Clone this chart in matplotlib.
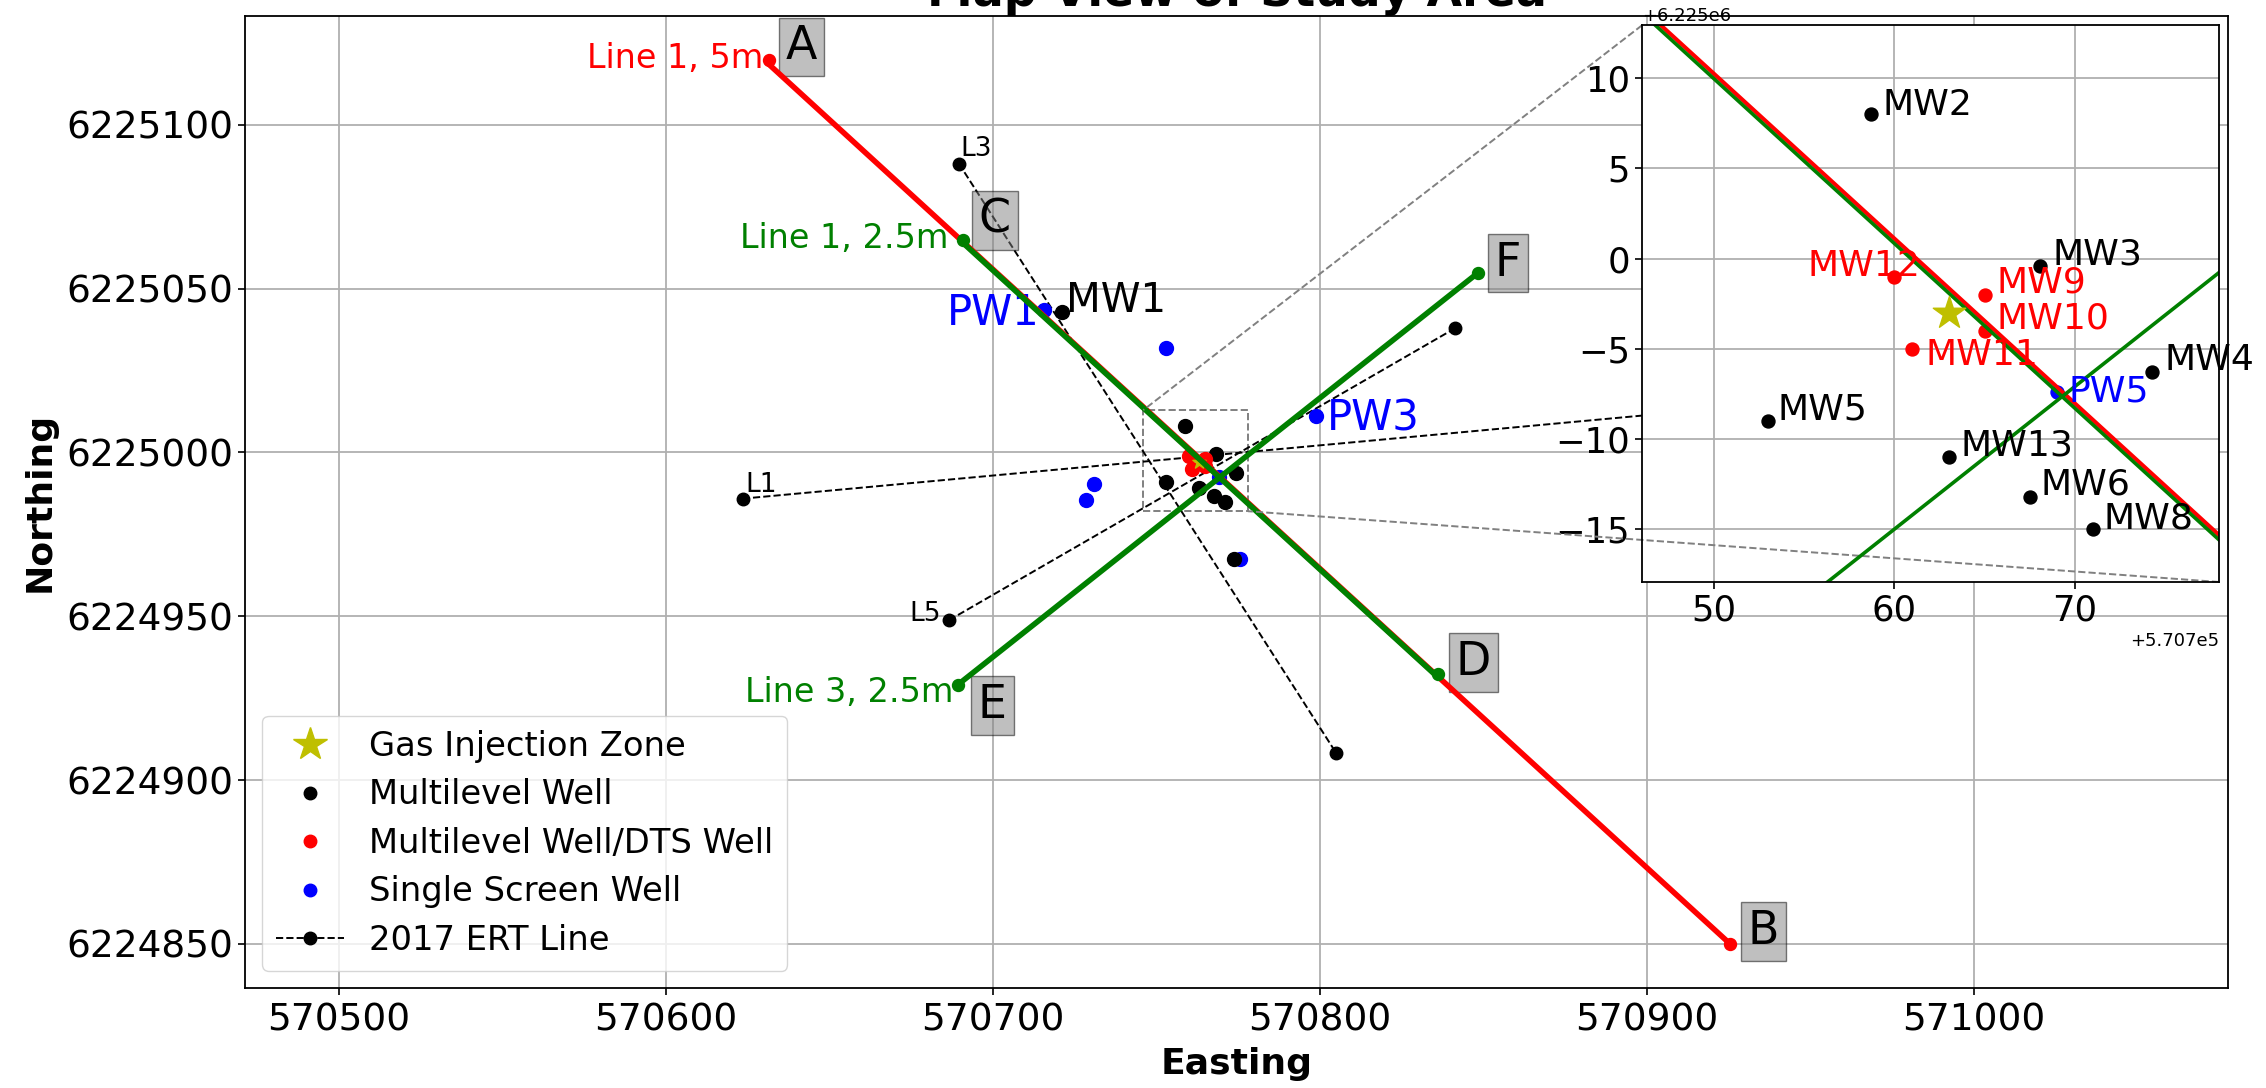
import numpy as np
import matplotlib
matplotlib.use('Agg')
import matplotlib.pyplot as plt
from matplotlib.lines import Line2D
from mpl_toolkits.axes_grid1.inset_locator import mark_inset

# Pozos (Easting, Northing)
star_x = [570763.0]
star_y = [6224997.0]

multi_names = ['MW2', 'MW3', 'MW4', 'MW5', 'MW13', 'MW6', 'MW8']
multi_x = [570758.7, 570768.1, 570774.3, 570753.0, 570763.0, 570767.5, 570771.0]
multi_y = [6225008.0, 6224999.6, 6224993.7, 6224991.0, 6224989.0, 6224986.8, 6224985.0]
multi_lab_x = [570759.35, 570768.75, 570774.95, 570753.5, 570763.65, 570768.1, 570771.6]
multi_lab_y = [6225007.97, 6224999.67, 6224993.8, 6224991.1, 6224989.1, 6224986.9, 6224985.05]

# estos dos solo salen en la vista general
other_multi_x = [570721.0, 570773.7]
other_multi_y = [6225042.8, 6224967.6]

dts_names = ['MW9', 'MW10', 'MW11', 'MW12']
dts_x = [570765.0, 570765.0, 570761.0, 570760.0]
dts_y = [6224998.0, 6224996.0, 6224995.0, 6224999.0]
dts_lab_x = [570765.65, 570765.65, 570761.7, 570755.2]
dts_lab_y = [6224998.1, 6224996.13, 6224994.1, 6224999.05]

single_x = [570715.5, 570753.0, 570798.8, 570730.9, 570728.4, 570775.7, 570769.0]
single_y = [6225043.5, 6225031.8, 6225011.0, 6224990.4, 6224985.5, 6224967.6, 6224992.6]

# Lineas de perfil
line1_5m_x = [570631.5, 570925.4]
line1_5m_y = [6225118.5, 6224850.0]
line1_25m_x = [570691.0, 570836.0]
line1_25m_y = [6225063.84, 6224931.44]
line3_25m_x = [570689.3, 570848.3]
line3_25m_y = [6224929.1, 6225054.8]

# Puntos de los extremos de cada linea
red_end_x = [570631.5, 570925.4]
red_end_y = [6225119.8, 6224850.0]
green_end_x = [570691.0, 570836.0, 570689.3, 570848.3]
green_end_y = [6225065.0, 6224932.5, 6224929.1, 6225054.8]

# Lineas ERT 2017
ert_names = ['L1', 'L3', 'L5']
ert_x = [[570623.5, 570950.0], [570689.6, 570805.0], [570686.6, 570841.3]]
ert_y = [[6224985.9, 6225016.0], [6225088.2, 6224908.2], [6224948.8, 6225037.9]]
ert_lab_x = [570624.3, 570690.0, 570674.6]
ert_lab_y = [6224988.0, 6225090.4, 6224948.4]

# Letras de los extremos
end_names = ['A', 'B', 'C', 'D', 'E', 'F']
end_x = [570636.7, 570930.9, 570695.7, 570841.6, 570695.4, 570853.5]
end_y = [6225120.0, 6224850.0, 6225067.0, 6224932.0, 6224919.0, 6225054.0]

x_ticks = [570500, 570600, 570700, 570800, 570900, 571000]
y_ticks = [6224850, 6224900, 6224950, 6225000, 6225050, 6225100]
inset_x_ticks = [570750, 570760, 570770]
inset_y_ticks = [6224985, 6224990, 6224995, 6225000, 6225005, 6225010]

W, H = 2266, 1088
fig = plt.figure(figsize=(W / 100, H / 100), dpi=100)
ax = fig.add_axes([245 / W, 1 - 988 / H, (2228 - 245) / W, (988 - 15.5) / H])

ax.grid(True, color='#b0b0b0', lw=1.3)
ax.set_axisbelow(True)

ax.plot(line1_5m_x, line1_5m_y, 'r-', lw=4, zorder=4)
ax.plot(line1_25m_x, line1_25m_y, 'g-', lw=4, zorder=4)
ax.plot(line3_25m_x, line3_25m_y, 'g-', lw=4, zorder=4)
ax.scatter(red_end_x, red_end_y, c='r', s=74, zorder=4)
ax.scatter(green_end_x, green_end_y, c='g', s=74, zorder=4)

for i in range(len(ert_names)):
    ax.plot(ert_x[i], ert_y[i], 'k--', lw=1.4, marker='o', ms=9)
    ax.text(ert_lab_x[i], ert_lab_y[i], ert_names[i], fontsize=19, color='k')

ax.scatter(multi_x + other_multi_x, multi_y + other_multi_y, c='k', s=100, zorder=3)
ax.scatter(single_x, single_y, c='b', s=100, zorder=2.5)
ax.scatter(dts_x, dts_y, c='r', s=100, zorder=3)
ax.scatter(star_x, star_y, c='y', marker='*', s=100, zorder=3.5)

for i in range(len(end_names)):
    ax.text(end_x[i], end_y[i], end_names[i], fontsize=33, color='k',
            bbox=dict(facecolor='gray', alpha=0.5, pad=5))

ax.text(570576.0, 6225117.3, 'Line 1, 5m', color='r', fontsize=24)
ax.text(570622.6, 6225062.4, 'Line 1, 2.5m', color='g', fontsize=24)
ax.text(570624.3, 6224923.7, 'Line 3, 2.5m', color='g', fontsize=24)
ax.text(570722.4, 6225042.9, 'MW1', color='k', fontsize=29)
ax.text(570686.0, 6225038.8, 'PW1', color='b', fontsize=30)
ax.text(570802.0, 6225006.8, 'PW3', color='b', fontsize=30)

ax.set_xlim(570471.3, 571077.7)
ax.set_ylim(6224836.5, 6225133.4)
ax.set_xticks(x_ticks)
ax.set_yticks(y_ticks)
ax.ticklabel_format(useOffset=False, style='plain')
ax.tick_params(labelsize=27, width=1.2, length=5)
ax.tick_params(axis='x', pad=5.5)
ax.set_xlabel('Easting', fontsize=26, fontweight='bold', labelpad=6)
ax.set_ylabel('Northing', fontsize=26, fontweight='bold', labelpad=7)
ax.set_title('Map View of Study Area', fontsize=33, fontweight='bold', pad=3)
for s in ax.spines.values():
    s.set_linewidth(1.3)

handles = [
    Line2D([], [], color='y', marker='*', ls='', ms=25),
    Line2D([], [], color='k', marker='o', ls='', ms=9),
    Line2D([], [], color='r', marker='o', ls='', ms=9),
    Line2D([], [], color='b', marker='o', ls='', ms=9),
    Line2D([], [], color='k', marker='o', ls='--', lw=1.4, ms=9),
]
labels = ['Gas Injection Zone', 'Multilevel Well', 'Multilevel Well/DTS Well',
          'Single Screen Well', '2017 ERT Line']
ax.legend(handles, labels, loc='lower left', fontsize=24.3, labelspacing=0.46,
          handletextpad=0.75, borderpad=0.42)

# Vista ampliada
axins = fig.add_axes([1642 / W, 1 - 582 / H, (2219 - 1642) / W, (582 - 25.3) / H])
axins.grid(True, color='#b0b0b0', lw=1.3)
axins.set_axisbelow(True)
axins.plot(line1_5m_x, line1_5m_y, 'r-', lw=3)
axins.plot(line1_25m_x, line1_25m_y, 'g-', lw=2.6)
axins.plot(line3_25m_x, line3_25m_y, 'g-', lw=2.6)
axins.scatter(multi_x, multi_y, c='k', s=87, zorder=3)
axins.scatter(dts_x, dts_y, c='r', s=87, zorder=1.5)
axins.scatter(single_x[-1:], single_y[-1:], c='b', s=87, zorder=1.5)
axins.scatter(star_x, star_y, c='y', marker='*', s=600, zorder=3)

for i in range(len(multi_names)):
    axins.text(multi_lab_x[i], multi_lab_y[i], multi_names[i], color='k', fontsize=26)
for i in range(len(dts_names)):
    axins.text(dts_lab_x[i], dts_lab_y[i], dts_names[i], color='r', fontsize=26)
axins.text(570769.65, 6224992.1, 'PW5', color='b', fontsize=26)

axins.set_xlim(570746.0, 570778.0)
axins.set_ylim(6224982.06, 6225012.94)
axins.set_xticks(inset_x_ticks)
axins.set_yticks(inset_y_ticks)
axins.tick_params(labelsize=25.5, width=1.2, length=5)
axins.xaxis.get_offset_text().set_fontsize(13)
axins.yaxis.get_offset_text().set_fontsize(13)
for s in axins.spines.values():
    s.set_linewidth(1.3)

mark_inset(ax, axins, loc1=2, loc2=4, fc='none', ec='0.5', ls='--', lw=1.4)

fig.savefig('out.png', dpi=100)
